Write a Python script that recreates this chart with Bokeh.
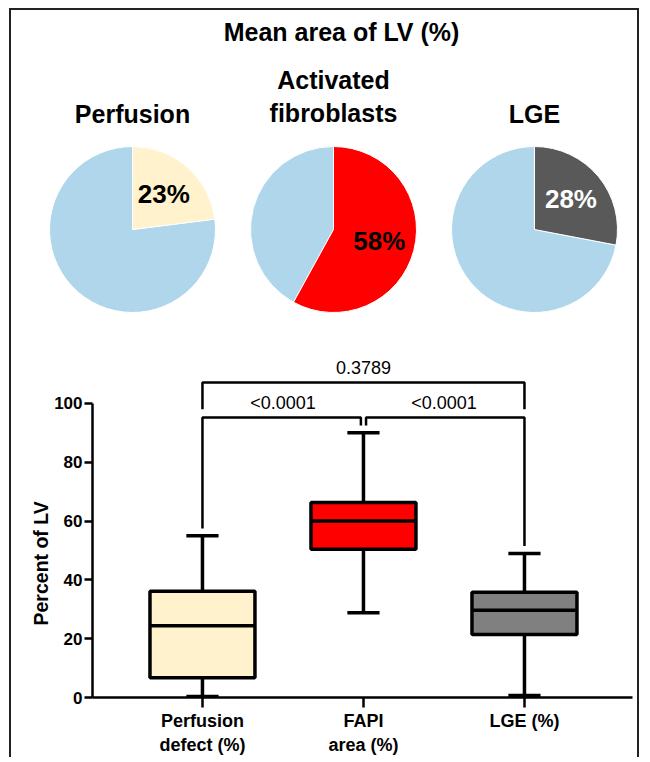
import numpy as np
from bokeh.plotting import figure
from bokeh.models import Range1d, FixedTicker, Title, Spacer
from bokeh.layouts import column, row
from bokeh.embed import file_html
from bokeh.resources import INLINE
from bokeh.core.properties import value

# ---------------- data ----------------
main_title = "Mean area of LV (%)"
pie_titles = ["Perfusion", "Activated\nfibroblasts", "LGE"]
pie_percent = [23, 58, 28]
pie_colors = ["#FFF2CC", "#FF0000", "#595959"]
pie_label_colors = ["black", "black", "white"]
rest_color = "#B0D6EC"

categories = ["Perfusion\ndefect (%)", "FAPI\narea (%)", "LGE (%)"]
whisker_low = [0.3, 28.8, 0.7]
q1 = [6.7, 50.4, 21.4]
median = [24.4, 60.0, 29.7]
q3 = [36.1, 66.3, 35.8]
whisker_high = [55.0, 90.0, 49.0]
box_colors = ["#FFF2CC", "#FF0000", "#808080"]
p_outer = "0.3789"       # Perfusion vs LGE
p_left = "<0.0001"       # Perfusion vs FAPI
p_right = "<0.0001"      # FAPI vs LGE
y_ticks = [0, 20, 40, 60, 80, 100]
y_label = "Percent of LV"

# ---------------- layout constants ----------------
FONT = "Liberation Sans"
W, HA = 626, 328
PIE_X0, PIE_DX, PIE_Y, R = 121, 201, 109, 83

# ---------------- top figure: pies ----------------
pa = figure(width=W, height=HA, x_range=Range1d(0, W), y_range=Range1d(0, HA),
            x_axis_type=None, y_axis_type=None, toolbar_location=None,
            output_backend="svg", min_border=0, outline_line_color=None)

cx = np.array([PIE_X0 + i * PIE_DX for i in range(len(pie_percent))], dtype=float)
frac = np.array(pie_percent) / 100.0
start = np.pi / 2 - frac * 2 * np.pi
end = np.full(len(frac), np.pi / 2)

pa.wedge(x=cx, y=PIE_Y, radius=R, start_angle=end, end_angle=start + 2 * np.pi,
         direction="anticlock", fill_color=rest_color, line_color="white", line_width=1)
pa.wedge(x=cx, y=PIE_Y, radius=R, start_angle=start, end_angle=end,
         direction="anticlock", fill_color=pie_colors, line_color="white", line_width=1)

mid = np.pi / 2 - frac * np.pi
lx = cx + 0.57 * R * np.cos(mid)
ly = PIE_Y + 0.57 * R * np.sin(mid)
pa.text(x=lx, y=ly, text=[f"{v}%" for v in pie_percent], text_color=pie_label_colors,
        text_font=value(FONT), text_font_style="bold", text_font_size="26px",
        text_align="center", text_baseline="middle")

pa.text(x=[cx[1] + 8], y=[307], text=[main_title], text_font=value(FONT),
        text_font_style="bold", text_font_size="25px", text_color="black",
        text_align="center", text_baseline="middle")

pa.text(x=cx, y=211, text=pie_titles, text_font=value(FONT), text_font_style="bold",
        text_font_size="25px", text_color="black", text_align="center",
        text_baseline="bottom", text_line_height=1.2)

# ---------------- bottom figure: box plot ----------------
pb = figure(frame_width=540, frame_height=357, x_range=Range1d(-0.683, 2.671),
            y_range=Range1d(0, 121.4), toolbar_location=None, output_backend="svg",
            min_border_left=81, min_border_right=5, min_border_top=2, min_border_bottom=57,
            outline_line_color=None)
pb.grid.visible = False

xs = np.arange(len(categories), dtype=float)
BW, CAP = 0.652, 0.1
LW = 3.5

pb.segment(x0=xs, y0=q3, x1=xs, y1=whisker_high, line_color="black", line_width=LW)
pb.segment(x0=xs, y0=q1, x1=xs, y1=whisker_low, line_color="black", line_width=LW)
pb.segment(x0=xs - CAP, y0=whisker_high, x1=xs + CAP, y1=whisker_high, line_color="black", line_width=LW)
pb.segment(x0=xs - CAP, y0=whisker_low, x1=xs + CAP, y1=whisker_low, line_color="black", line_width=LW)
pb.vbar(x=xs, width=BW, bottom=q1, top=q3, fill_color=box_colors, line_color="black", line_width=LW)
pb.segment(x0=xs - BW / 2, y0=median, x1=xs + BW / 2, y1=median, line_color="black", line_width=LW)

# significance brackets
TOP_Y, TOP_DROP, LOW_Y, GAP, MID = 107.1, 98.0, 95.2, 2.5, 0.016
wh = whisker_high
pb.multi_line(
    xs=[[xs[0], xs[0], xs[2], xs[2]],
        [xs[0], xs[0], xs[1] - MID, xs[1] - MID],
        [xs[1] + MID, xs[1] + MID, xs[2], xs[2]]],
    ys=[[TOP_DROP, TOP_Y, TOP_Y, TOP_DROP],
        [wh[0] + GAP, LOW_Y, LOW_Y, wh[1] + GAP],
        [wh[1] + GAP, LOW_Y, LOW_Y, wh[2] + GAP]],
    line_color="black", line_width=2.5)
pb.text(x=[xs[1], (xs[0] + xs[1]) / 2, (xs[1] + xs[2]) / 2], y=[112.2, 100.3, 100.3],
        text=[p_outer, p_left, p_right], text_font=value(FONT), text_font_size="18px",
        text_color="black", text_align="center", text_baseline="middle")

for ax in (pb.xaxis, pb.yaxis):
    ax.axis_line_width = 2.5
    ax.axis_line_color = "black"
    ax.major_tick_line_width = 2.5
    ax.major_tick_line_color = "black"
    ax.major_tick_in = 0
    ax.minor_tick_line_color = None
    ax.major_label_text_font = FONT
    ax.major_label_text_font_style = "bold"
    ax.major_label_text_color = "black"

pb.yaxis.ticker = FixedTicker(ticks=y_ticks)
pb.yaxis.bounds = (0, 100)
pb.yaxis.major_tick_out = 8
pb.yaxis.major_label_text_font_size = "17px"
pb.yaxis.major_label_standoff = 2

# y-axis label, centred on the 0-100 part of the axis
pb.add_layout(Title(text=y_label, align="left", offset=72, standoff=0,
                    text_font=FONT, text_font_style="bold",
                    text_font_size="19.5px", text_color="black"), "left")

pb.xaxis.ticker = FixedTicker(ticks=list(xs))
pb.xaxis.major_label_overrides = {int(i): c for i, c in enumerate(categories)}
pb.xaxis.major_tick_out = 10
pb.xaxis.major_label_text_font_size = "18px"
pb.xaxis.major_label_standoff = 3

inner = column(column(pa), column(pb), spacing=0,
               styles={"border-top": "2px solid #222", "border-left": "2px solid #222",
                       "border-right": "2px solid #222", "background": "white"})
layout = column(Spacer(height=8, width=10), row(Spacer(width=9, height=10), inner, spacing=0), spacing=0)

open("out.html", "w").write(file_html(layout, INLINE))
